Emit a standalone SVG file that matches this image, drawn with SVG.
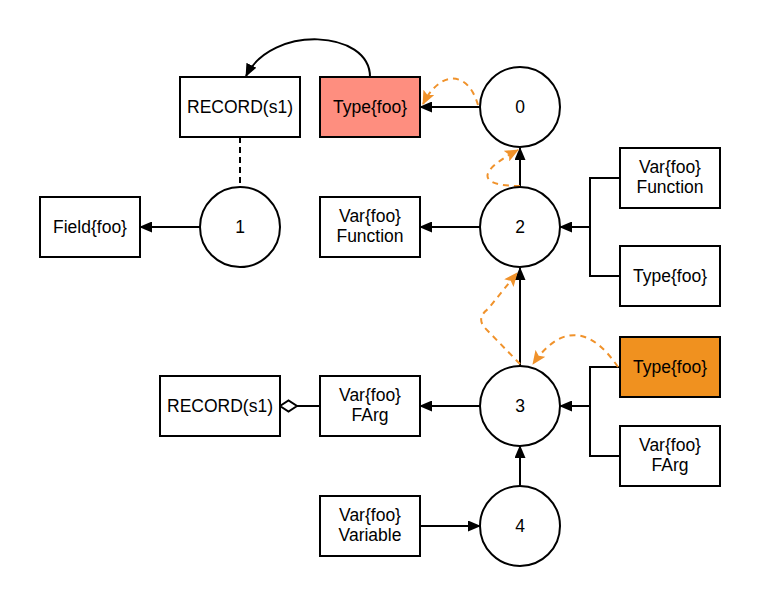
<svg xmlns="http://www.w3.org/2000/svg" width="760" height="607" viewBox="0 0 760 607">
<style>
.box{fill:#fff;stroke:#000;stroke-width:2}
.node{fill:#fff;stroke:#000;stroke-width:2}
.t{font-family:"Liberation Sans",Arial,sans-serif;font-size:17.5px;fill:#000;text-anchor:middle}
.c{fill:none;stroke:#000;stroke-width:2}
.o{fill:none;stroke:#F0922B;stroke-width:2;stroke-dasharray:6 5}
</style>
<defs>
<marker id="blk" viewBox="0 0 13 11" markerWidth="13" markerHeight="11" refX="12" refY="5.5" orient="auto" markerUnits="userSpaceOnUse"><path d="M0,0 L13,5.5 L0,11 z" fill="#000"/></marker>
<marker id="org" viewBox="0 0 14 12" markerWidth="14" markerHeight="12" refX="13" refY="6" orient="auto" markerUnits="userSpaceOnUse"><path d="M0,0 L14,6 L0,12 L3,6 z" fill="#F0922B"/></marker>
<marker id="dia" viewBox="0 0 20 14" markerWidth="20" markerHeight="14" refX="18.5" refY="7" orient="auto" markerUnits="userSpaceOnUse"><path d="M1.5,7 L10,1.5 L18.5,7 L10,12.5 z" fill="#fff" stroke="#000" stroke-width="2"/></marker>
</defs>
<g id="connectors">
<path class="c" d="M480,107 L420,107" marker-end="url(#blk)"/>
<path class="c" d="M370,77 C370,30 272,24 246,76" marker-end="url(#blk)"/>
<path class="c" d="M240,137 L240,187" stroke-dasharray="6 4"/>
<path class="c" d="M200,227 L140,227" marker-end="url(#blk)"/>
<path class="c" d="M520,187 L520,148" marker-end="url(#blk)"/>
<path class="c" d="M480,227 L420,227" marker-end="url(#blk)"/>
<path class="c" d="M620,178 L590,178 L590,276 L620,276"/>
<path class="c" d="M590,227 L560,227" marker-end="url(#blk)"/>
<path class="c" d="M520,366 L520,268" marker-end="url(#blk)"/>
<path class="c" d="M480,406 L420,406" marker-end="url(#blk)"/>
<path class="c" d="M320,406 L280,406" marker-end="url(#dia)"/>
<path class="c" d="M620,367 L590,367 L590,456 L620,456"/>
<path class="c" d="M590,406 L560,406" marker-end="url(#blk)"/>
<path class="c" d="M520,486 L520,446" marker-end="url(#blk)"/>
<path class="c" d="M420,526 L480,526" marker-end="url(#blk)"/>
<path class="o" d="M478,105 C468,70 440,70 423,104" marker-end="url(#org)"/>
<path class="o" d="M520,186 C478,186 476,172 518,150" marker-end="url(#org)"/>
<path class="o" d="M520,364 L485,328 Q476,318 488,309 L517,273" marker-end="url(#org)"/>
<path class="o" d="M618,367 C595,333 565,318 533,364" marker-end="url(#org)"/>
</g>
<g id="record-top"><rect class="box" x="180" y="77" width="120" height="60"/><text class="t" x="240" y="113">RECORD(s1)</text></g>
<g id="type-red"><rect class="box" x="320" y="77" width="100" height="60" style="fill:#FE8E7F"/><text class="t" x="370" y="113">Type{foo}</text></g>
<g id="n0"><circle class="node" cx="520" cy="107" r="40"/><text class="t" x="520" y="113">0</text></g>
<g id="field"><rect class="box" x="40" y="197" width="100" height="60"/><text class="t" x="90" y="233">Field{foo}</text></g>
<g id="n1"><circle class="node" cx="240" cy="227" r="40"/><text class="t" x="240" y="233">1</text></g>
<g id="var-function-left"><rect class="box" x="320" y="197" width="100" height="60"/><text class="t" x="370" y="222">Var{foo}</text><text class="t" x="370" y="242">Function</text></g>
<g id="n2"><circle class="node" cx="520" cy="227" r="40"/><text class="t" x="520" y="233">2</text></g>
<g id="var-function-right"><rect class="box" x="620" y="148" width="100" height="60"/><text class="t" x="670" y="173">Var{foo}</text><text class="t" x="670" y="193">Function</text></g>
<g id="type-right"><rect class="box" x="620" y="246" width="100" height="60"/><text class="t" x="670" y="282">Type{foo}</text></g>
<g id="type-orange"><rect class="box" x="620" y="337" width="100" height="60" style="fill:#F0911F"/><text class="t" x="670" y="373">Type{foo}</text></g>
<g id="var-farg-right"><rect class="box" x="620" y="426" width="100" height="60"/><text class="t" x="670" y="451">Var{foo}</text><text class="t" x="670" y="471">FArg</text></g>
<g id="n3"><circle class="node" cx="520" cy="406" r="40"/><text class="t" x="520" y="412">3</text></g>
<g id="var-farg-left"><rect class="box" x="320" y="376" width="100" height="60"/><text class="t" x="370" y="401">Var{foo}</text><text class="t" x="370" y="421">FArg</text></g>
<g id="record-bottom"><rect class="box" x="160" y="376" width="120" height="60"/><text class="t" x="220" y="412">RECORD(s1)</text></g>
<g id="var-variable"><rect class="box" x="320" y="496" width="100" height="60"/><text class="t" x="370" y="521">Var{foo}</text><text class="t" x="370" y="541">Variable</text></g>
<g id="n4"><circle class="node" cx="520" cy="526" r="40"/><text class="t" x="520" y="532">4</text></g>
</svg>
